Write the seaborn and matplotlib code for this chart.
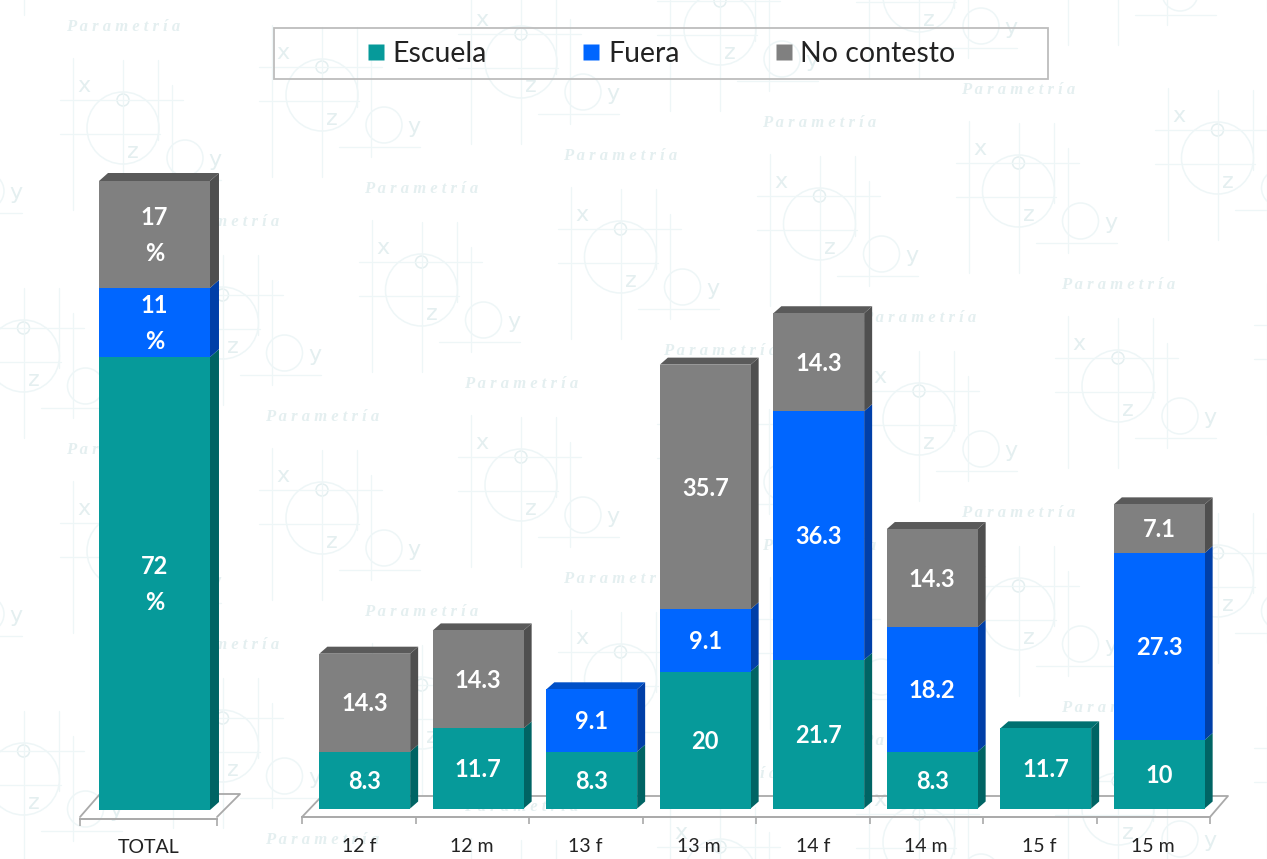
import matplotlib
matplotlib.use("Agg")
import matplotlib.pyplot as plt
import seaborn as sns
import numpy as np
from matplotlib.patches import Circle, Polygon, Rectangle
from matplotlib.lines import Line2D
from matplotlib.transforms import IdentityTransform
from matplotlib.ticker import FixedLocator

categories = ["12 f", "12 m", "13 f", "13 m", "14 f", "14 m", "15 f", "15 m"]
escuela = [8.3, 11.7, 8.3, 20, 21.7, 8.3, 11.7, 10]
fuera = [0, 0, 9.1, 9.1, 36.3, 18.2, 0, 27.3]
no_contesto = [14.3, 14.3, 0, 35.7, 14.3, 14.3, 0, 7.1]
total_category = ["TOTAL"]
total_escuela = [72]
total_fuera = [11]
total_no_contesto = [17]
series_names = ["Escuela", "Fuera", "No contesto"]

FRONT = ["#069a9a", "#0066ff", "#808080"]
SIDE = ["#006464", "#003fa8", "#4f4f4f"]
TOP = ["#007070", "#0050c8", "#5a5a5a"]
W, H = 1267, 859
FONT = "Lato"
GREY = "#a9a9a9"

sns.set_theme(style="white")
plt.rcParams["font.family"] = [FONT, "DejaVu Sans"]
fig = plt.figure(figsize=(W / 100, H / 100), dpi=100, facecolor="white")


def px_axes(x0, x1, ytop, ybot, **kw):
    return fig.add_axes([x0 / W, 1 - ybot / H, (x1 - x0) / W, (ybot - ytop) / H], **kw)


# faint watermark -------------------------------------------------------
bg = fig.add_axes([0, 0, 1, 1], zorder=0)
bg.set_xlim(0, W)
bg.set_ylim(H, 0)
bg.axis("off")
WM = "#eef6f7"
WMT = "#e4eff0"
for a in range(-4, 9):
    for b in range(-2, 6):
        cx = 123 + 199 * a + 99.5 * b
        cy = 100 - 33 * a + 195 * b
        if not (-180 < cx < W + 120 and -120 < cy < H + 100):
            continue
        for x0, y0, x1, y1 in [(-63, 0, 60, 0), (-63, 34, 37, 34), (0, -40, 0, 110), (-50, -42, -50, 110),
                               (35, -40, 35, 40), (49, -15, 49, 90), (17, 80, 98, 80)]:
            bg.plot([cx + x0, cx + x1], [cy + y0, cy + y1], color=WM, lw=0.9)
        bg.add_patch(Circle((cx, cy + 28), 36, fill=False, ec=WM, lw=1.1))
        bg.add_patch(Circle((cx, cy), 6, fill=False, ec=WMT, lw=1.1))
        bg.add_patch(Circle((cx + 62, cy + 58), 18, fill=False, ec=WM, lw=1.1))
        for s, dx, dy in [("x", -39, -14), ("z", 10, 52), ("y", 92, 60)]:
            tx, ty = cx + dx, cy + dy
            if 14 < tx < W - 14 and 14 < ty < H - 14:
                bg.text(tx, ty, s, color=WMT, fontsize=16, ha="center", va="center", family="DejaVu Sans")
        if 62 < cx < W - 62 and 12 < cy - 73 < H - 12:
            bg.text(cx, cy - 73, "P a r a m e t r í a", color=WMT, fontsize=12, style="italic",
                    weight="bold", ha="center", va="center", family="Liberation Serif")


def stacked(ax, cats, layers, bar_width, slot_shift, depth, rise, label_fn, fs):
    bottom = np.zeros(len(cats))
    drawn = []
    for i, vals in enumerate(layers):
        n0 = len(ax.patches)
        sns.barplot(x=cats, y=vals, bottom=bottom, order=cats, color=FRONT[i], saturation=1,
                    width=bar_width, ax=ax, errorbar=None, linewidth=0, zorder=3)
        for j, p in enumerate(ax.patches[n0:]):
            if vals[j] > 0:
                drawn.append((i, j, p, vals[j], bottom[j]))
        bottom = bottom + np.array(vals, dtype=float)
    ax.set_xlim(-0.5, len(cats) - 0.5)
    for i, j, p, v, b in drawn:
        p.set_x(p.get_x() + slot_shift)
        p.set_edgecolor("none")
    fig.canvas.draw()
    for i, j, p, v, b in drawn:
        xl, xr = p.get_x(), p.get_x() + p.get_width()
        (px0, py0), (px1, py1) = ax.transData.transform([(xl, b), (xr, b + v)])
        ax.add_patch(Polygon([(px1, py0), (px1 + depth, py0 + rise), (px1 + depth, py1 + rise), (px1, py1)],
                             closed=True, fc=SIDE[i], ec="none", transform=IdentityTransform(), zorder=2, clip_on=False))
        if abs(b + v - bottom[j]) < 1e-6:
            ax.add_patch(Polygon([(px0, py1), (px0 + depth, py1 + rise), (px1 + depth, py1 + rise), (px1, py1)],
                                 closed=True, fc=TOP[i], ec="none", transform=IdentityTransform(), zorder=2, clip_on=False))
        ax.annotate(label_fn(v), xy=((xl + xr) / 2, b + v / 2), xytext=(0, -0.9), textcoords="offset points",
                    color="white", weight="bold", fontsize=fs, ha="center", va="center",
                    linespacing=1.7, zorder=5)
    # axis: spine set forward of the bars, ticks at slot boundaries
    sns.despine(ax=ax, left=True, top=True, right=True)
    ax.spines["bottom"].set_position(("outward", 8.5 * 0.72))
    ax.spines["bottom"].set_color(GREY)
    ax.spines["bottom"].set_linewidth(1.4)
    ax.set_yticks([])
    ax.xaxis.set_minor_locator(FixedLocator(np.arange(len(cats) + 1) - 0.5))
    ax.tick_params(axis="x", which="minor", bottom=True, length=5, color=GREY, width=1.2)
    ax.tick_params(axis="x", which="major", bottom=False, pad=9, labelsize=14, labelcolor="#222222")
    ax.patch.set_alpha(0)


def floor(points):
    xs = [p[0] for p in points]
    ys = [p[1] for p in points]
    bg.plot(xs, ys, color=GREY, lw=1.3, zorder=4)


# left chart
axL = px_axes(80, 217, 100, 810, zorder=1)
axL.set_ylim(0, 710 / 6.29)
stacked(axL, total_category, [total_escuela, total_fuera, total_no_contesto], 0.81, 6 / 137, 9, 8,
        lambda v: f"{v:g}\n%", 17)
floor([(80, 817), (100, 794), (240, 794), (217, 817)])

# right chart
axR = px_axes(302, 1210, 100, 808.5, zorder=1)
axR.set_ylim(0, 708.5 / 6.85)
stacked(axR, categories, [escuela, fuera, no_contesto], 0.80, 6 / 113.5, 8, 7, lambda v: f"{v:g}", 17)
floor([(302, 817), (322, 796), (1228, 796), (1210, 817)])

# legend
bg.add_patch(Rectangle((273.5, 27.5), 774, 51, fill=False, ec="#bdbdbd", lw=1.3, zorder=6))
handles = [Line2D([], [], marker="s", ls="none", ms=11.5, mfc=c, mec="none") for c in FRONT]
fig.legend(handles, series_names, loc="center", bbox_to_anchor=(661.5 / W, 1 - 54 / H), ncol=3, frameon=False,
           fontsize=20.5, handlelength=0.6, handletextpad=0.29, columnspacing=3.36, labelcolor="#222222")

fig.savefig("out.png", dpi=100)
